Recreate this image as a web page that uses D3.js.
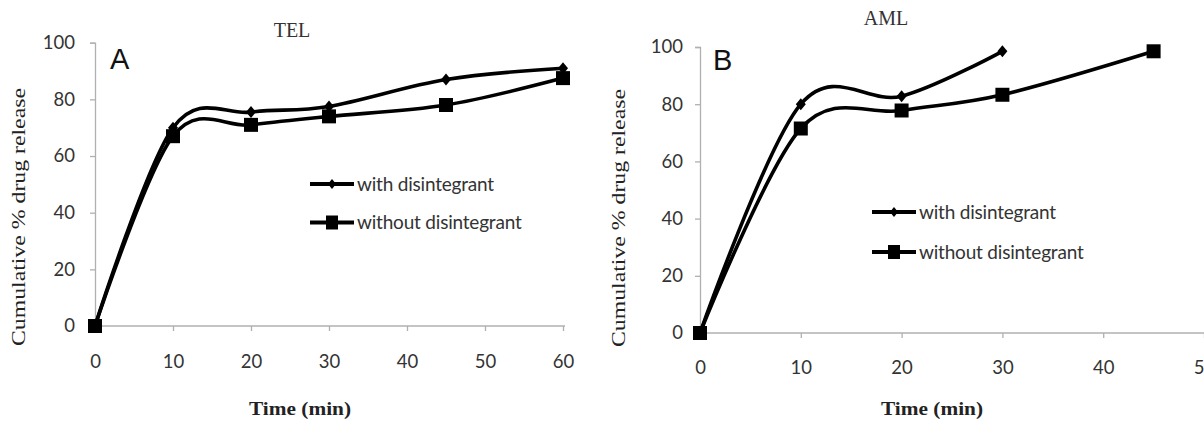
<!DOCTYPE html>
<html>
<head>
<meta charset="utf-8">
<script src="https://cdn.jsdelivr.net/npm/d3@7"></script>
<style>
  body { margin: 0; background: #fff; }
  svg { display: block; }
  .tick text { font-family: Lato, "Open Sans", sans-serif; font-size: 18.5px; fill: #333; }
  .domain, .tick line { stroke: #b0b0b0; stroke-width: 1.3px; }
</style>
</head>
<body>
<svg id="chart" width="1204" height="421"></svg>
<script>
// time points (min)
var telTime = [0, 10, 20, 30, 45, 60];
var telWith = [0, 70, 75.5, 77.5, 87, 91];
var telWithout = [0, 67, 71, 74, 78, 87.5];

var amlTimeWith = [0, 10, 20, 30];
var amlWith = [0, 80, 82.8, 98.5];
var amlTimeWithout = [0, 10, 20, 30, 45];
var amlWithout = [0, 71.5, 77.8, 83.3, 98.5];

var telXTicks = [0, 10, 20, 30, 40, 50, 60];
var amlXTicks = [0, 10, 20, 30, 40, 50];
var yTicks = [0, 20, 40, 60, 80, 100];

var legendNames = ['with disintegrant', 'without disintegrant'];

var svg = d3.select('#chart');

function zip(xs, ys) {
	return xs.map(function (x, i) { return {x: x, y: ys[i]}; });
}

function drawPanel(p) {
	var g = svg.append('g');
	var xScale = d3.scaleLinear().domain(p.xDomain).range(p.xRange);
	var yScale = d3.scaleLinear().domain([0, 100]).range(p.yRange);

	var xAxis = d3.axisBottom(xScale).tickValues(p.xTicks).tickSizeOuter(0).tickSize(5).tickPadding(p.xPad);
	var yAxis = d3.axisLeft(yScale).tickValues(yTicks).tickSizeOuter(0).tickSize(5).tickPadding(p.yPad);

	g.append('g').attr('transform', 'translate(0,' + yScale(0) + ')').call(xAxis)
		.select('.domain').attr('d', 'M' + xScale(0) + ',0H' + p.axisEnd);
	g.append('g').attr('transform', 'translate(' + xScale(0) + ',0)').call(yAxis);

	var line = d3.line()
		.x(function (d) { return xScale(d.x); })
		.y(function (d) { return yScale(d.y); })
		.curve(d3.curveCardinal.tension(0));

	p.series.forEach(function (s, i) {
		var pts = zip(s.x, s.y);
		g.append('path')
			.attr('d', line(pts))
			.attr('fill', 'none')
			.attr('stroke', '#000')
			.attr('stroke-width', 3.6);
		g.append('g').selectAll('path')
			.data(pts)
			.enter()
			.append('path')
			.attr('transform', function (d) { return 'translate(' + xScale(d.x) + ',' + yScale(d.y) + ')'; })
			.attr('d', i === 0 ? 'M0,-6L5,0L0,6L-5,0Z' : 'M-7,-7H7V7H-7Z')
			.attr('fill', '#000');
	});

	// legend
	legendNames.forEach(function (name, i) {
		var ly = p.legend[1] + i * p.legendGap;
		var lg = g.append('g').attr('transform', 'translate(' + p.legend[0] + ',' + ly + ')');
		lg.append('line').attr('x1', 0).attr('x2', 44).attr('y1', 0).attr('y2', 0)
			.attr('stroke', '#000').attr('stroke-width', 4);
		lg.append('path')
			.attr('transform', 'translate(22,0)')
			.attr('d', i === 0 ? 'M0,-5L4,0L0,5L-4,0Z' : 'M-6,-7H6V7H-6Z')
			.attr('fill', '#000');
		lg.append('text')
			.attr('x', 47).attr('y', 0).attr('dy', '0.35em')
			.attr('font-family', 'Lato, "Open Sans", sans-serif')
			.attr('font-size', 19).attr('fill', '#333')
			.attr('letter-spacing', -0.2)
			.text(name);
	});

	// title, panel letter, axis titles
	g.append('text').attr('x', p.title[0]).attr('y', p.title[1])
		.attr('text-anchor', 'middle').attr('font-family', '"Liberation Serif", "Times New Roman", serif')
		.attr('font-size', 20).attr('fill', '#333').text(p.titleText);
	g.append('text').attr('x', p.letter[0]).attr('y', p.letter[1])
		.attr('font-family', '"Liberation Sans", Arial, sans-serif')
		.attr('font-size', 29).attr('fill', '#111').text(p.letterText);
	g.append('text').attr('x', p.xTitle[0]).attr('y', p.xTitle[1])
		.attr('text-anchor', 'middle').attr('font-family', '"Liberation Serif", "Times New Roman", serif')
		.attr('font-size', 19).attr('font-weight', 'bold').attr('fill', '#222')
		.attr('textLength', 102).attr('lengthAdjust', 'spacingAndGlyphs')
		.text('Time (min)');
	g.append('text')
		.attr('transform', 'translate(' + p.yTitle[0] + ',' + p.yTitle[1] + ') rotate(-90)')
		.attr('text-anchor', 'middle').attr('font-family', '"Liberation Serif", "Times New Roman", serif')
		.attr('font-size', 19).attr('fill', '#222')
		.attr('textLength', 258).attr('lengthAdjust', 'spacingAndGlyphs')
		.text('Cumulative % drug release');
}

drawPanel({
	xDomain: [0, 60], xRange: [95, 563], yRange: [326, 42.7], axisEnd: 565,
	xTicks: telXTicks, xPad: 24, yPad: 15,
	series: [{x: telTime, y: telWith}, {x: telTime, y: telWithout}],
	legend: [310, 184], legendGap: 38.5,
	title: [292, 37], titleText: 'TEL',
	letter: [110, 69], letterText: 'A',
	xTitle: [300, 415], yTitle: [25, 217]
});

drawPanel({
	xDomain: [0, 50], xRange: [700, 1204], yRange: [333, 47], axisEnd: 1204,
	xTicks: amlXTicks, xPad: 23, yPad: 12,
	series: [{x: amlTimeWith, y: amlWith}, {x: amlTimeWithout, y: amlWithout}],
	legend: [872, 212], legendGap: 40,
	title: [886, 25], titleText: 'AML',
	letter: [713, 70], letterText: 'B',
	xTitle: [932, 415], yTitle: [625, 218]
});
</script>
</body>
</html>
